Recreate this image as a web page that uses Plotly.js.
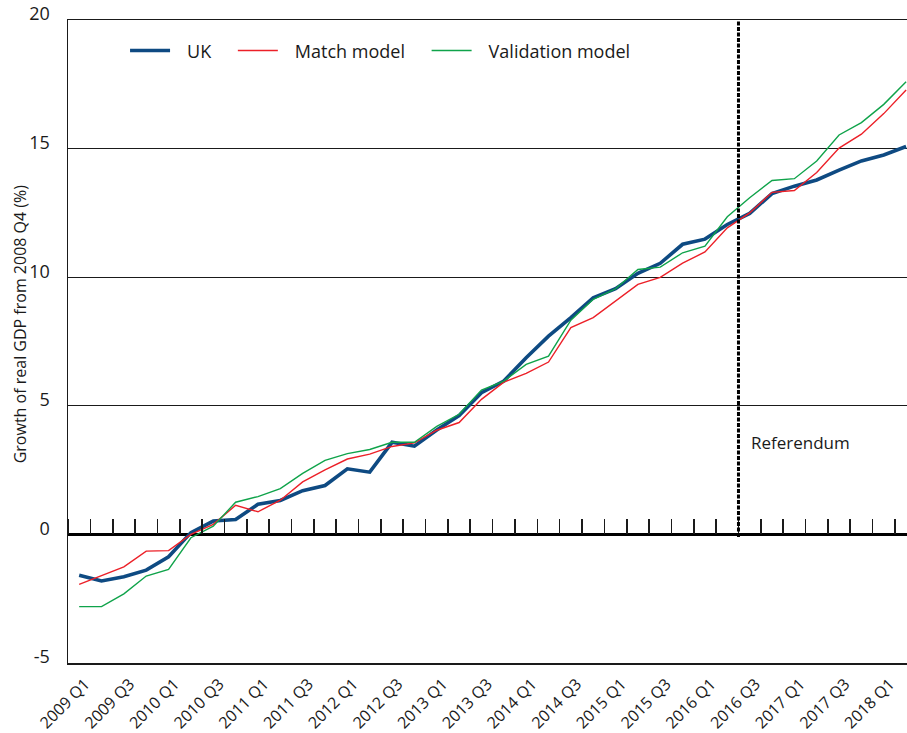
<!DOCTYPE html>
<html>
<head>
<meta charset="utf-8">
<script src="https://cdn.plot.ly/plotly-3.0.1.min.js"></script>
<style>
  html, body { margin: 0; padding: 0; background: #ffffff; }
  #chart { width: 907px; height: 733px; }
</style>
</head>
<body>
<div id="chart"></div>
<script>
// Quarters (categories)
var quarters = [
  "2009 Q1","2009 Q2","2009 Q3","2009 Q4",
  "2010 Q1","2010 Q2","2010 Q3","2010 Q4",
  "2011 Q1","2011 Q2","2011 Q3","2011 Q4",
  "2012 Q1","2012 Q2","2012 Q3","2012 Q4",
  "2013 Q1","2013 Q2","2013 Q3","2013 Q4",
  "2014 Q1","2014 Q2","2014 Q3","2014 Q4",
  "2015 Q1","2015 Q2","2015 Q3","2015 Q4",
  "2016 Q1","2016 Q2","2016 Q3","2016 Q4",
  "2017 Q1","2017 Q2","2017 Q3","2017 Q4",
  "2018 Q1","2018 Q2"
];

// Tick labels shown on the x axis
var xTickLabels = [
  "2009 Q1","2009 Q3","2010 Q1","2010 Q3","2011 Q1","2011 Q3",
  "2012 Q1","2012 Q3","2013 Q1","2013 Q3","2014 Q1","2014 Q3",
  "2015 Q1","2015 Q3","2016 Q1","2016 Q3","2017 Q1","2017 Q3","2018 Q1"
];

// Tick values / labels on the y axis
var yTickValues = [-5, 0, 5, 10, 15, 20];
var yTickLabels = ["-5", "0", "5", "10", "15", "20"];

// Growth of real GDP from 2008 Q4 (%)
var ukValues = [
  -1.59,-1.81,-1.65,-1.39,
  -0.87, 0.07, 0.52, 0.58,
   1.17, 1.32, 1.70, 1.90,
   2.55, 2.42, 3.58, 3.43,
   4.06, 4.62, 5.51, 5.96,
   6.87, 7.71, 8.43, 9.20,
   9.55,10.15,10.54,11.28,
  11.48,12.05,12.48,13.25,
  13.54,13.78,14.16,14.52,
  14.75,15.08
];

var matchValues = [
  -1.94,-1.59,-1.26,-0.65,
  -0.63, 0.00, 0.39, 1.13,
   0.88, 1.33, 2.04, 2.51,
   2.93, 3.12, 3.42, 3.56,
   4.05, 4.35, 5.25, 5.92,
   6.26, 6.70, 8.04, 8.43,
   9.07, 9.72, 9.99,10.55,
  10.98,11.92,12.50,13.30,
  13.37,14.07,15.02,15.56,
  16.36,17.28
];

var validationValues = [
  -2.81,-2.81,-2.31,-1.62,
  -1.36,-0.13, 0.32, 1.25,
   1.47, 1.78, 2.37, 2.88,
   3.14, 3.30, 3.58, 3.58,
   4.20, 4.67, 5.61, 5.96,
   6.61, 6.93, 8.33, 9.14,
   9.55,10.30,10.39,10.95,
  11.21,12.35,13.09,13.76,
  13.83,14.52,15.53,16.01,
  16.72,17.60
];

// Referendum falls between 2016 Q2 and 2016 Q3 (category index 29.5)
var referendumPosition = 29.5;

var FONT = "Open Sans, Noto Sans, sans-serif";
var LEAD = "\u2002\u2009";           // spacing between legend line and its text
var TRAIL = "\u2002\u00a0\u2009";    // spacing after each legend entry

var traces = [
  {
    x: quarters, y: ukValues, name: LEAD + "UK" + TRAIL, type: "scatter", mode: "lines",
    line: { color: "#0e4a82", width: 3.6 }
  },
  {
    x: quarters, y: matchValues, name: LEAD + "Match model" + TRAIL, type: "scatter", mode: "lines",
    line: { color: "#ec2028", width: 1.4 }
  },
  {
    x: quarters, y: validationValues, name: LEAD + "Validation model", type: "scatter", mode: "lines",
    line: { color: "#0fa34a", width: 1.4 }
  },
  {
    // carrier for the secondary axis showing the quarter ticks on the zero line
    x: [], y: [], xaxis: "x2", yaxis: "y", showlegend: false, hoverinfo: "skip",
    type: "scatter", mode: "lines"
  }
];

var layout = {
  width: 907, height: 733,
  margin: { l: 68, r: 0, t: 20, b: 70 },
  paper_bgcolor: "#ffffff",
  plot_bgcolor: "#ffffff",
  font: { family: FONT, size: 17, color: "#1a1a1a" },
  showlegend: true,
  legend: {
    orientation: "h",
    x: 0.068, xanchor: "left",
    y: 0.952, yanchor: "middle",
    font: { family: FONT, size: 18, color: "#1a1a1a" },
    itemwidth: 40,
    bgcolor: "rgba(0,0,0,0)"
  },
  xaxis: {
    type: "category",
    range: [-0.5, 37.04],
    tickmode: "array",
    tickvals: xTickLabels,
    ticktext: xTickLabels,
    tickangle: -45,
    ticks: "",
    ticklabelshift: 6,
    ticklabelstandoff: 4,
    tickfont: { family: FONT, size: 16, color: "#1a1a1a" },
    showgrid: false,
    zeroline: false,
    showline: true,
    mirror: true,
    linecolor: "#1a1a1a",
    linewidth: 1.5
  },
  xaxis2: {
    overlaying: "x",
    anchor: "free",
    position: 0.2,
    side: "top",
    range: [-0.5, 37.04],
    tickmode: "linear",
    tick0: 0.5,
    dtick: 1,
    ticks: "outside",
    ticklen: 15,
    tickwidth: 1.6,
    tickcolor: "#1a1a1a",
    showticklabels: false,
    showgrid: false,
    zeroline: false,
    showline: false
  },
  yaxis: {
    range: [-5, 20],
    tickmode: "array",
    tickvals: yTickValues,
    ticktext: yTickLabels,
    ticks: "",
    ticklabelstandoff: 13,
    ticklabelshift: -6,
    tickfont: { family: FONT, size: 18, color: "#1a1a1a" },
    showgrid: true,
    gridcolor: "#1a1a1a",
    gridwidth: 1.3,
    zeroline: true,
    zerolinecolor: "#000000",
    zerolinewidth: 2.3,
    showline: true,
    linecolor: "#1a1a1a",
    linewidth: 1.5
  },
  shapes: [
    {
      type: "line", xref: "x", yref: "y",
      x0: referendumPosition, x1: referendumPosition, y0: -0.1, y1: 20.15,
      line: { color: "#000000", width: 3, dash: "4px,1.5px" }
    }
  ],
  annotations: [
    {
      text: "Referendum", xref: "x", yref: "y",
      x: referendumPosition, y: 3.58, xanchor: "left", yanchor: "middle",
      xshift: 11, showarrow: false,
      font: { family: FONT, size: 17, color: "#1a1a1a" }
    },
    {
      text: "Growth of real GDP from 2008 Q4 (%)", xref: "paper", yref: "paper",
      x: -0.057, y: 0.527, xanchor: "center", yanchor: "middle",
      textangle: -90, showarrow: false,
      font: { family: FONT, size: 16, color: "#1a1a1a" }
    }
  ]
};

Plotly.newPlot("chart", traces, layout, { displayModeBar: false, staticPlot: true });
</script>
</body>
</html>
